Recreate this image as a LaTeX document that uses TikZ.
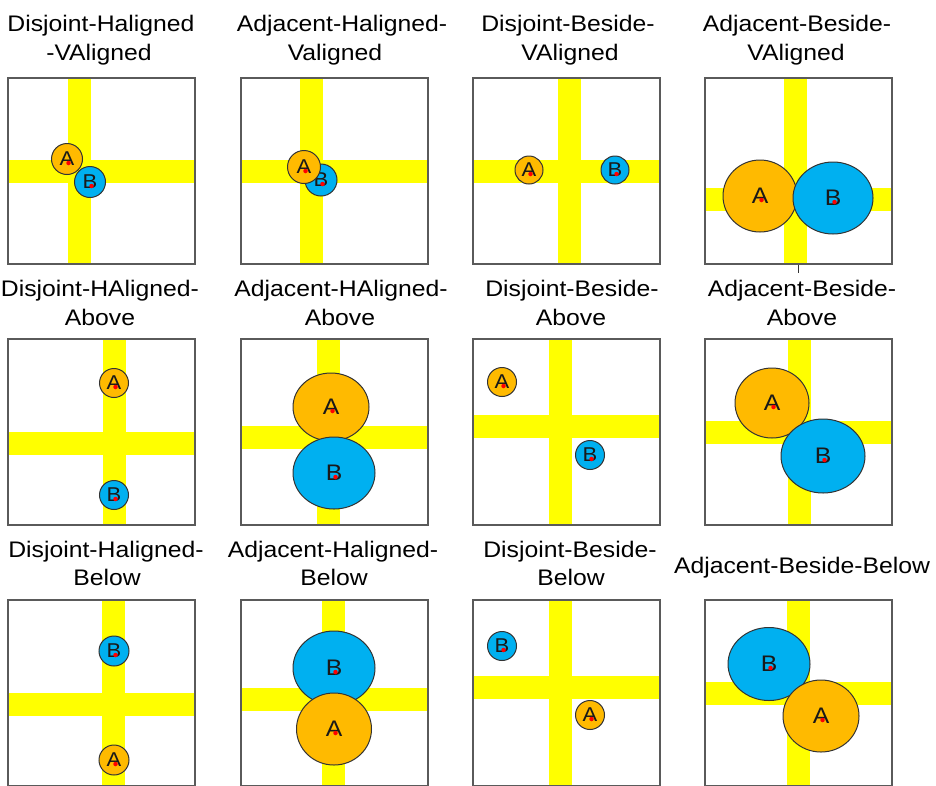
\documentclass[tikz,border=0pt]{standalone}
\usepackage{fontspec}
\setmainfont{Liberation Sans}
\newfontfamily\titlefont[FakeStretch=1.1]{Liberation Sans}
\usetikzlibrary{shapes.geometric}

\definecolor{barY}{HTML}{FFFF00}
\definecolor{objA}{HTML}{FFBA00}
\definecolor{objB}{HTML}{00B0F0}
\definecolor{frameC}{HTML}{5A5A5A}
\definecolor{rimC}{HTML}{333333}

\tikzset{
  caption/.style={anchor=base, inner sep=0pt, font=\titlefont\fontsize{22.5}{26}\selectfont, text=black},
  framebox/.style={draw=frameC, line width=1.4pt},
  bar/.style={fill=barY},
  obj/.style={draw=rimC, line width=1pt, inner sep=0pt, text=black!90},
  smallA/.style={obj, circle, fill=objA, minimum size=29pt, font=\titlefont\fontsize{20}{20}\selectfont},
  smallB/.style={obj, circle, fill=objB, minimum size=29pt, font=\titlefont\fontsize{20}{20}\selectfont},
  bigA/.style={obj, ellipse, fill=objA, font=\titlefont\fontsize{22.5}{22}\selectfont},
  bigB/.style={obj, ellipse, fill=objB, font=\titlefont\fontsize{22.5}{22}\selectfont},
  refdot/.style={fill=red, circle, inner sep=0pt, minimum size=4.5pt},
}

% one panel: frame corner (#1,#2), vertical bar left edge #3, horizontal bar top edge #4
\newcommand\drawpanel[4]{%
  \fill[white] (#1,#2) rectangle ++(187,186);
  \fill[bar] (#3,#2) rectangle (#3+23,#2+186);
  \fill[bar] (#1,#4) rectangle (#1+187,#4+23);
  \draw[framebox] (#1,#2) rectangle ++(187,186);
}
% marker dot just below the centre of a named object
\newcommand\markdot[1]{\node[refdot] at ([shift={(1.5pt,-4pt)}]#1.center) {};}

\begin{document}
\begin{tikzpicture}[x=1pt,y=-1pt]
\useasboundingbox (0,0) rectangle (936,785);
\clip (0,0) rectangle (936,785);

% ---------- row 1 ----------
\node[caption] (t1a) at (101,31) {Disjoint-Haligned};
\node[caption] (t1b) at (99,60) {-VAligned};
\node[caption] (t2a) at (342,31) {Adjacent-Haligned-};
\node[caption] (t2b) at (335,60) {Valigned};
\node[caption] (t3a) at (568,31) {Disjoint-Beside-};
\node[caption] (t3b) at (570,60) {VAligned};
\node[caption] (t4a) at (797,31) {Adjacent-Beside-};
\node[caption] (t4b) at (796,60) {VAligned};

\drawpanel{8}{78}{68}{160}
\node[smallA, minimum size=31pt] (a11) at (67,159) {A}; \markdot{a11}
\node[smallB, minimum size=31pt] (b11) at (90,182) {B}; \markdot{b11}

\drawpanel{241}{78}{300}{160}
\node[smallB, minimum size=32pt] (b12) at (321,180) {B}; \markdot{b12}
\node[smallA, minimum size=33pt] (a12) at (304,167) {A}; \markdot{a12}

\drawpanel{473}{78}{558}{160}
\node[smallA, minimum size=28pt] (a13) at (529,170) {A}; \markdot{a13}
\node[smallB, minimum size=28pt] (b13) at (615,170) {B}; \markdot{b13}

\drawpanel{705}{78}{784}{188}
\node[bigA, minimum width=74pt, minimum height=72pt] (a14) at (760,196) {A}; \markdot{a14}
\node[bigB, minimum width=80pt, minimum height=72pt] (b14) at (833,198) {B}; \markdot{b14}
\coordinate (tk1) at (798,265);
\coordinate (tk2) at (798,273);
\draw[rimC, line width=1pt] (tk1) -- (tk2);

% ---------- row 2 ----------
\node[caption] (t5a) at (100,296) {Disjoint-HAligned-};
\node[caption] (t5b) at (100,325) {Above};
\node[caption] (t6a) at (341,296) {Adjacent-HAligned-};
\node[caption] (t6b) at (340,325) {Above};
\node[caption] (t7a) at (572,296) {Disjoint-Beside-};
\node[caption] (t7b) at (571,325) {Above};
\node[caption] (t8a) at (802,296) {Adjacent-Beside-};
\node[caption] (t8b) at (802,325) {Above};

\drawpanel{8}{339}{103}{432}
\node[smallA, minimum size=29pt] (a21) at (114,383) {A}; \markdot{a21}
\node[smallB, minimum size=29pt] (b21) at (114,495) {B}; \markdot{b21}

\drawpanel{241}{339}{317}{426}
\node[bigA, minimum width=76pt, minimum height=68pt] (a22) at (331,407) {A}; \markdot{a22}
\node[bigB, minimum width=82pt, minimum height=72pt] (b22) at (334,473) {B}; \markdot{b22}

\drawpanel{473}{339}{549}{415}
\node[smallA, minimum size=29pt] (a23) at (502,382) {A}; \markdot{a23}
\node[smallB, minimum size=29pt] (b23) at (590,455) {B}; \markdot{b23}

\drawpanel{705}{339}{788}{421}
\node[bigA, minimum width=74pt, minimum height=70pt] (a24) at (772,403) {A}; \markdot{a24}
\node[bigB, minimum width=84pt, minimum height=74pt] (b24) at (823,456) {B}; \markdot{b24}

% ---------- row 3 ----------
\node[caption] (t9a) at (106,557) {Disjoint-Haligned-};
\node[caption] (t9b) at (107,585) {Below};
\node[caption] (t10a) at (333,557) {Adjacent-Haligned-};
\node[caption] (t10b) at (334,585) {Below};
\node[caption] (t11a) at (570,557) {Disjoint-Beside-};
\node[caption] (t11b) at (571,585) {Below};
\node[caption] (t12) at (802,573) {Adjacent-Beside-Below};

\drawpanel{8}{600}{102}{693}
\node[smallB, minimum size=30pt] (b31) at (114,651) {B}; \markdot{b31}
\node[smallA, minimum size=30pt] (a31) at (114,760) {A}; \markdot{a31}

\drawpanel{241}{600}{322}{688}
\node[bigB, minimum width=82pt, minimum height=74pt] (b32) at (334,668) {B}; \markdot{b32}
\node[bigA, minimum width=75pt, minimum height=72pt] (a32) at (334,729) {A}; \markdot{a32}

\drawpanel{473}{600}{549}{676}
\node[smallB, minimum size=29pt] (b33) at (502,646) {B}; \markdot{b33}
\node[smallA, minimum size=29pt] (a33) at (590,715) {A}; \markdot{a33}

\drawpanel{705}{600}{787}{682}
\node[bigB, minimum width=82pt, minimum height=73pt] (b34) at (769,664) {B}; \markdot{b34}
\node[bigA, minimum width=76pt, minimum height=72pt] (a34) at (821,716) {A}; \markdot{a34}
\end{tikzpicture}
\end{document}
